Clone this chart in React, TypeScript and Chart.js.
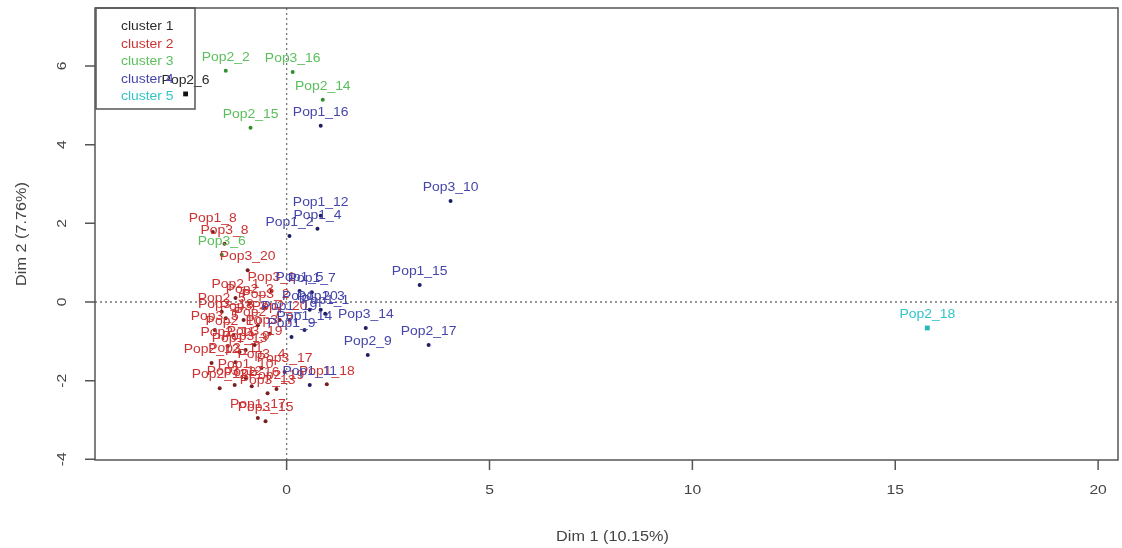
import React, { useEffect, useRef } from "react";
import { Chart, registerables } from "chart.js";
Chart.register(...registerables);

const xTicks = [0, 5, 10, 15, 20];
const yTicks = [-4, -2, 0, 2, 4, 6];
const xTitle = "Dim 1 (10.15%)";
const yTitle = "Dim 2 (7.76%)";

const clusterNames = ["cluster 1", "cluster 2", "cluster 3", "cluster 4", "cluster 5"];
const labelColors = ["#2a2a2a", "#CC3333", "#5BBF5B", "#4646AA", "#33C4C8"];
const pointColors = ["#111111", "#7A1E1E", "#2F8F2F", "#1E1E66", "#22B8BC"];

const c1Names = ["Pop2_6"];
const c1X = [-2.49];
const c1Y = [5.29];

const c2Names = [
  "Pop1_8", "Pop3_8", "Pop3_20", "Pop3_1", "Pop2_1", "Pop2_3", "Pop3_2", "Pop2_5",
  "Pop3_3", "Pop2_7", "Pop3_5", "Pop2_10", "Pop3_7", "Pop2_11", "Pop3_9", "Pop3_4",
  "Pop2_12", "Pop3_11", "Pop2_13", "Pop3_12", "Pop2_16", "Pop3_13", "Pop2_19", "Pop1_17",
  "Pop3_15", "Pop1_18", "Pop3_17", "Pop3_18", "Pop3_19", "Pop1_10", "Pop2_20", "Pop1_13",
];
const c2X = [
  -1.82, -1.53, -0.96, -0.37, -1.26, -0.91, -0.52, -1.6,
  -1.06, -0.71, -1.77, -1.31, -0.42, -1.45, -1.01, -0.62,
  -1.85, -1.26, -1.65, -1.28, -0.86, -0.47, -0.25, -0.71,
  -0.52, 0.99, -0.05, -1.5, -0.79, -1.01, -0.17, -1.16,
];
const c2Y = [
  1.78, 1.48, 0.81, 0.28, 0.1, -0.03, -0.15, -0.25,
  -0.46, -0.59, -0.71, -0.84, -0.81, -1.12, -1.22, -1.68,
  -1.55, -1.53, -2.19, -2.11, -2.14, -2.32, -2.21, -2.95,
  -3.03, -2.09, -1.78, -0.41, -1.09, -1.93, -0.46, -1.27,
];

const c3Names = ["Pop2_2", "Pop3_16", "Pop2_14", "Pop2_15", "Pop3_6"];
const c3X = [-1.5, 0.15, 0.89, -0.89, -1.6];
const c3Y = [5.88, 5.85, 5.14, 4.43, 1.2];

const c4Names = [
  "Pop3_10", "Pop1_15", "Pop1_12", "Pop1_4", "Pop1_2", "Pop1_16", "Pop3_14", "Pop2_17",
  "Pop2_9", "Pop1_5", "Pop1_7", "Pop1_20", "Pop1_3", "Pop1_1", "Pop1_19", "Pop1_14",
  "Pop1_9", "Pop1_11",
];
const c4X = [
  4.04, 3.28, 0.84, 0.76, 0.07, 0.84, 1.95, 3.5,
  2.0, 0.32, 0.62, 0.57, 0.84, 0.95, 0.07, 0.44,
  0.12, 0.57,
];
const c4Y = [
  2.57, 0.43, 2.19, 1.86, 1.68, 4.48, -0.66, -1.09,
  -1.35, 0.28, 0.25, -0.2, -0.2, -0.3, -0.46, -0.71,
  -0.89, -2.11,
];

const c5Names = ["Pop2_18"];
const c5X = [15.79];
const c5Y = [-0.66];

const clusters = [
  { names: c1Names, xs: c1X, ys: c1Y },
  { names: c2Names, xs: c2X, ys: c2Y },
  { names: c3Names, xs: c3X, ys: c3Y },
  { names: c4Names, xs: c4X, ys: c4Y },
  { names: c5Names, xs: c5X, ys: c5Y },
];

const FONT = 'Arial, "Liberation Sans", "DejaVu Sans", sans-serif';
const STRETCH = 1.16;

function drawText(
  ctx: CanvasRenderingContext2D,
  text: string,
  x: number,
  y: number,
  size: number,
  color: string,
  align: CanvasTextAlign = "center",
  rotate = false
) {
  ctx.save();
  ctx.translate(x, y);
  if (rotate) ctx.rotate(-Math.PI / 2);
  ctx.scale(STRETCH, 1);
  ctx.font = `${size}px ${FONT}`;
  ctx.fillStyle = color;
  ctx.textAlign = align;
  ctx.textBaseline = "middle";
  ctx.fillText(text, 0, 0);
  ctx.restore();
}

const rPlot = {
  id: "rPlot",
  beforeDatasetsDraw(chart: any) {
    const { ctx, chartArea: a, scales } = chart;
    const x0 = scales.x.getPixelForValue(0);
    const y0 = scales.y.getPixelForValue(0);
    ctx.save();
    ctx.strokeStyle = "#777777";
    ctx.lineWidth = 1.3;
    ctx.setLineDash([2, 3]);
    ctx.beginPath();
    ctx.moveTo(x0, a.top);
    ctx.lineTo(x0, a.bottom);
    ctx.moveTo(a.left, y0);
    ctx.lineTo(a.right, y0);
    ctx.stroke();
    ctx.restore();
  },
  afterDatasetsDraw(chart: any) {
    const { ctx, chartArea: a, scales } = chart;
    clusters.forEach((c, ci) => {
      c.names.forEach((n, i) => {
        const px = scales.x.getPixelForValue(c.xs[i]);
        const py = scales.y.getPixelForValue(c.ys[i]);
        drawText(ctx, n, px, py - 13, 12, labelColors[ci]);
      });
    });
    ctx.save();
    ctx.strokeStyle = "#555555";
    ctx.lineWidth = 1.5;
    ctx.strokeRect(a.left, a.top, a.right - a.left, a.bottom - a.top);
    ctx.beginPath();
    xTicks.forEach((t) => {
      const px = scales.x.getPixelForValue(t);
      ctx.moveTo(px, a.bottom);
      ctx.lineTo(px, a.bottom + 10);
    });
    yTicks.forEach((t) => {
      const py = scales.y.getPixelForValue(t);
      ctx.moveTo(a.left, py);
      ctx.lineTo(a.left - 10, py);
    });
    ctx.stroke();
    ctx.restore();
    xTicks.forEach((t) => {
      drawText(ctx, String(t), scales.x.getPixelForValue(t), a.bottom + 30, 13.5, "#444444");
    });
    yTicks.forEach((t) => {
      drawText(ctx, String(t), a.left - 33, scales.y.getPixelForValue(t), 13.5, "#444444", "center", true);
    });
    drawText(ctx, xTitle, (a.left + a.right) / 2 + 6, a.bottom + 77, 14, "#444444");
    drawText(ctx, yTitle, 22, (a.top + a.bottom) / 2, 14, "#444444", "center", true);
    ctx.save();
    ctx.strokeStyle = "#555555";
    ctx.lineWidth = 1.5;
    ctx.strokeRect(a.left + 1, a.top, 99, 101);
    ctx.restore();
    clusterNames.forEach((n, i) => {
      drawText(ctx, n, a.left + 26, a.top + 19 + i * 17.4, 12, labelColors[i], "left");
    });
  },
};

export default function App() {
  const ref = useRef<HTMLCanvasElement | null>(null);
  useEffect(() => {
    if (!ref.current) return;
    const datasets = clusters.map((c, ci) => ({
      label: clusterNames[ci],
      data: c.xs.map((x, i) => ({ x, y: c.ys[i] })),
      backgroundColor: pointColors[ci],
      borderColor: pointColors[ci],
      pointStyle: ci === 0 || ci === 4 ? "rect" : "circle",
      pointRadius: ci === 0 || ci === 4 ? 3.4 : 2,
      borderWidth: 0,
    }));
    const chart = new Chart(ref.current, {
      type: "scatter",
      data: { datasets },
      options: {
        animation: false,
        responsive: false,
        layout: { padding: { left: 95, right: 2, top: 8, bottom: 88 } },
        plugins: { legend: { display: false }, tooltip: { enabled: false } },
        scales: {
          x: { type: "linear", min: -4.723, max: 20.49, display: false },
          y: { type: "linear", min: -4.017, max: 7.475, display: false },
        },
      },
      plugins: [rPlot],
    });
    let alive = true;
    const redraw = () => {
      if (alive) chart.draw();
    };
    if ((document as any).fonts && (document as any).fonts.ready) {
      (document as any).fonts.ready.then(redraw);
    }
    const t = setTimeout(redraw, 50);
    return () => {
      alive = false;
      clearTimeout(t);
      chart.destroy();
    };
  }, []);
  return (
    <div style={{ position: "fixed", left: 0, top: 0, width: 1122, height: 548, background: "#fff" }}>
      <canvas ref={ref} width={1122} height={548} style={{ display: "block" }} />
    </div>
  );
}
